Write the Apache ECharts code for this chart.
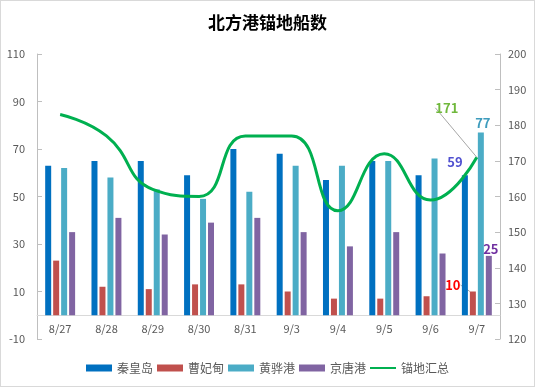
<!DOCTYPE html>
<html><head><meta charset="utf-8">
<script src="https://cdn.jsdelivr.net/npm/echarts@6/dist/echarts.min.js"></script>
<style>
html,body{margin:0;padding:0;background:#fff;}
#c{width:533px;height:385px;border:1px solid #d9d9d9;}
</style></head>
<body><div id="c"></div>
<script>
const categories = ['8/27','8/28','8/29','8/30','8/31','9/3','9/4','9/5','9/6','9/7'];
const qinhuangdao = [63, 65, 65, 59, 70, 68, 57, 65, 59, 59];
const caofeidian  = [23, 12, 11, 13, 13, 10, 7, 7, 8, 10];
const huanghua    = [62, 58, 53, 49, 52, 63, 63, 65, 66, 77];
const jingtang    = [35, 41, 34, 39, 41, 35, 29, 35, 26, 25];
const total       = [183, 177, 162, 160, 177, 177, 156, 172, 159, 171];
const leftTicks   = [-10, 10, 30, 50, 70, 90, 110];

const font = "'Microsoft YaHei','Noto Sans CJK SC',sans-serif";
const last = categories.length - 1;
function withLabel(arr, cfg) {
  return arr.map((v, i) => i === last ? Object.assign({ value: v }, cfg) : v);
}
const lbl = (color, extra) => ({ label: Object.assign({ show: true, color: color, fontWeight: 'bold', fontSize: 13, fontFamily: font }, extra || {}) });
const leader = { show: true, lineStyle: { color: '#a6a6a6', width: 1 } };

const chart = echarts.init(document.getElementById('c'));
chart.setOption({
  animation: false,
  title: { text: '北方港锚地船数', left: 'center', top: 8,
    textStyle: { fontSize: 17, fontWeight: 'bold', color: '#000', fontFamily: font } },
  grid: { left: 36, right: 34, top: 53, bottom: 47 },
  legend: {
    bottom: 7, left: 'center', itemWidth: 26, itemHeight: 7, itemGap: 4,
    textStyle: { color: '#595959', fontSize: 12, fontFamily: font },
    data: [
      { name: '秦皇岛', icon: 'rect' }, { name: '曹妃甸', icon: 'rect' },
      { name: '黄骅港', icon: 'rect' }, { name: '京唐港', icon: 'rect' },
      { name: '锚地汇总', icon: 'path://M0,0h0.01v0.01h-0.01zM0,2.5h26v2h-26zM25.99,6.99h0.01v0.01h-0.01z' }
    ]
  },
  xAxis: {
    type: 'category', data: categories,
    axisLine: { onZero: true, lineStyle: { color: '#d9d9d9' } },
    axisTick: { show: false },
    axisLabel: { color: '#595959', fontSize: 11, fontFamily: font, margin: -16 }
  },
  yAxis: [
    { type: 'value', min: -10, max: 110,
      axisLine: { show: true, lineStyle: { color: '#bfbfbf' } },
      axisTick: { show: true, inside: true, length: 5, customValues: leftTicks, lineStyle: { color: '#bfbfbf' } },
      axisLabel: { color: '#595959', fontSize: 11, fontFamily: font, customValues: leftTicks, margin: 12 },
      splitLine: { show: false } },
    { type: 'value', min: 120, max: 200, interval: 10,
      axisLine: { show: true, lineStyle: { color: '#bfbfbf' } },
      axisTick: { show: true, inside: true, length: 5, lineStyle: { color: '#bfbfbf' } },
      axisLabel: { color: '#595959', fontSize: 11, fontFamily: font, margin: 8 },
      splitLine: { show: false } }
  ],
  series: [
    { name: '秦皇岛', type: 'bar', barWidth: 6, barGap: '33%', itemStyle: { color: '#0070C0' },
      data: withLabel(qinhuangdao, lbl('#5050D0', { position: 'top' })) },
    { name: '曹妃甸', type: 'bar', barWidth: 6, itemStyle: { color: '#C0504D' }, labelLine: leader,
      data: withLabel(caofeidian, Object.assign(lbl('#FF0000', { position: 'top' }), { labelLine: leader })) },
    { name: '黄骅港', type: 'bar', barWidth: 6, itemStyle: { color: '#4BACC6' },
      data: withLabel(huanghua, lbl('#3E9CBD', { position: 'top', distance: 3 })) },
    { name: '京唐港', type: 'bar', barWidth: 6, itemStyle: { color: '#8064A2' },
      data: withLabel(jingtang, lbl('#7030A0', { position: 'top', distance: 0 })) },
    { name: '锚地汇总', type: 'line', yAxisIndex: 1, smooth: 0.5, symbol: 'circle', symbolSize: 0, showSymbol: true,
      lineStyle: { color: '#00B050', width: 3 }, itemStyle: { color: '#00B050' }, labelLine: leader,
      data: withLabel(total, Object.assign(lbl('#70B83C', { position: 'top' }), { labelLine: leader })) }
  ],
  labelLayout: function (p) {
    if (p.dataIndex !== last) return {};
    if (p.seriesIndex === 4) return { dx: -30, dy: -38 };
    if (p.seriesIndex === 1) return { dx: -20, dy: 5 };
    if (p.seriesIndex === 0) return { dx: -10, dy: -2 };
    if (p.seriesIndex === 2) return { dx: 2, dy: 0 };
    if (p.seriesIndex === 3) return { dx: 2, dy: 0 };
    return {};
  }
});
</script></body></html>
